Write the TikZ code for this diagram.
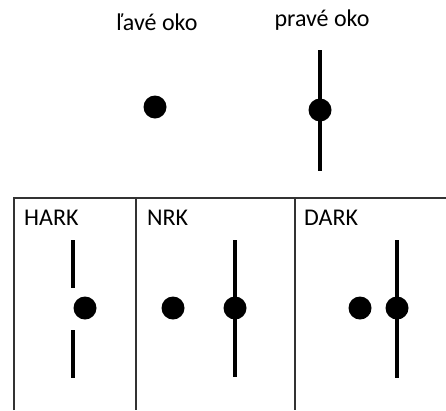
\documentclass[tikz,border=0pt]{standalone}
\usepackage{fontspec}
\setmainfont{Carlito}
\begin{document}
\begin{tikzpicture}[x=1pt,y=-1pt,
  dotn/.style={circle,fill=black,inner sep=0pt,minimum size=23pt},
  lbl/.style={font=\fontsize{24}{28}\selectfont,inner sep=0pt},
  vbar/.style={line width=3.8pt},
  frame/.style={line width=1.4pt,draw=black!80}]
\useasboundingbox (0,0) rectangle (446,410);
% top labels
\node[lbl] (lt) at (157,22) {ľavé oko};
\node[lbl] (rt) at (322,20) {pravé oko};
% top eyes
\node[dotn] (le) at (155,107) {};
\coordinate (rtop) at (320,50);
\coordinate (rbot) at (320,171);
\draw[vbar] (rtop) -- (rbot);
\node[dotn] (re) at (320,110) {};
% frame
\coordinate (f0) at (14,198);
\coordinate (f1) at (446,198);
\coordinate (b0) at (14,410);
\coordinate (d1t) at (136,198);
\coordinate (d1b) at (136,410);
\coordinate (d2t) at (295,198);
\coordinate (d2b) at (295,410);
\draw[frame] (b0) -- (f0) -- (f1);
\draw[frame] (d1t) -- (d1b);
\draw[frame] (d2t) -- (d2b);
% labels
\node[lbl,anchor=west] (hark) at (24,218) {HARK};
\node[lbl,anchor=west] (nrk) at (147,218) {NRK};
\node[lbl,anchor=west] (dark) at (304,218) {DARK};
% HARK
\coordinate (h1) at (73,240); \coordinate (h2) at (73,288);
\coordinate (h3) at (73,330); \coordinate (h4) at (73,378);
\draw[vbar] (h1) -- (h2);
\draw[vbar] (h3) -- (h4);
\node[dotn] (hd) at (85,308) {};
% NRK
\node[dotn] (nl) at (173,308) {};
\coordinate (n1) at (235,240); \coordinate (n2) at (235,377);
\draw[vbar] (n1) -- (n2);
\node[dotn] (nr) at (235,308) {};
% DARK
\node[dotn] (dl) at (360,308) {};
\coordinate (k1) at (397,240); \coordinate (k2) at (397,378);
\draw[vbar] (k1) -- (k2);
\node[dotn] (dr) at (397,308) {};
\end{tikzpicture}
\end{document}
